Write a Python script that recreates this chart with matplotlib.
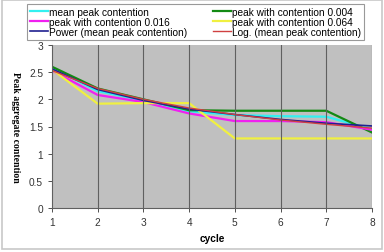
import matplotlib.pyplot as plt
import matplotlib.patches as patches

plt.rcParams['font.family'] = ['Liberation Sans', 'DejaVu Sans']

cycles = [1, 2, 3, 4, 5, 6, 7, 8]
mean_peak = [2.58, 2.15, 1.98, 1.78, 1.71, 1.69, 1.68, 1.45]
peak_004 = [2.60, 2.20, 2.00, 1.80, 1.79, 1.79, 1.79, 1.39]
peak_016 = [2.53, 2.08, 1.95, 1.74, 1.60, 1.60, 1.58, 1.44]
peak_064 = [2.55, 1.92, 1.93, 1.93, 1.28, 1.28, 1.28, 1.28]
power_fit = [2.56, 2.18, 1.98, 1.82, 1.72, 1.63, 1.56, 1.51]
log_fit = [2.53, 2.20, 2.00, 1.84, 1.72, 1.62, 1.54, 1.47]

fig = plt.figure(figsize=(3.84, 2.53), dpi=100)
ax = fig.add_axes([52/384, 1 - 209/253, 320/384, 163/253])
ax.set_facecolor('#c0c0c0')

lw = 1.6
h_mean, = ax.plot(cycles, mean_peak, color='#33f0f0', lw=lw, label='mean peak contention')
h_004, = ax.plot(cycles, peak_004, color='#138a13', lw=lw, label='peak with contention 0.004')
h_016, = ax.plot(cycles, peak_016, color='#f020f0', lw=lw, label='peak with contention 0.016')
h_064, = ax.plot(cycles, peak_064, color='#f0f040', lw=lw, label='peak with contention 0.064')
h_pow, = ax.plot(cycles, power_fit, color='#202090', lw=1.2, label='Power (mean peak contention)')
h_log, = ax.plot(cycles, log_fit, color='#d04040', lw=1.0, label='Log. (mean peak contention)')

ax.set_xlim(1, 8)
ax.set_ylim(0, 3)
ax.set_xticks(cycles)
ax.set_yticks([0, 0.5, 1, 1.5, 2, 2.5, 3])
ax.set_yticklabels(['0', '0.5', '1', '1.5', '2', '2.5', '3'])
for x in cycles[1:]:
    ax.axvline(x, color='#606060', lw=0.8)
ax.tick_params(labelsize=7.3, colors='#333333', length=3, width=0.6)
for s in ['top', 'right']:
    ax.spines[s].set_visible(False)
for s in ['left', 'bottom']:
    ax.spines[s].set_color('#606060')
    ax.spines[s].set_linewidth(0.8)

ax.set_xlabel('cycle', fontsize=7.3, fontweight='bold', labelpad=4)
fig.text(15/384, 1 - 127/253, 'Peak aggregate contention', rotation=270,
         fontsize=7, fontweight='bold', family='Liberation Serif',
         ha='center', va='center')

# column-wise fill, so order gives rows: (mean, 0.004), (0.016, 0.064), (power, log)
handles = [h_mean, h_016, h_pow, h_004, h_064, h_log]
leg = fig.legend(handles=handles, labels=[h.get_label() for h in handles],
                 loc='upper left', bbox_to_anchor=(27/384, 1 - 5/253),
                 ncol=2, fontsize=7.3, frameon=True, fancybox=False,
                 handlelength=1.8, handletextpad=0.1, labelspacing=0.0,
                 columnspacing=2.5, borderpad=0.3, borderaxespad=0)
leg.get_frame().set_edgecolor('#808080')
leg.get_frame().set_linewidth(0.8)

fig.patches.append(patches.Rectangle((0.005, 0.01), 0.99, 0.985,
                   transform=fig.transFigure, fill=False,
                   edgecolor='#c8c8c8', lw=1.2))

fig.savefig('out.png', dpi=100)
